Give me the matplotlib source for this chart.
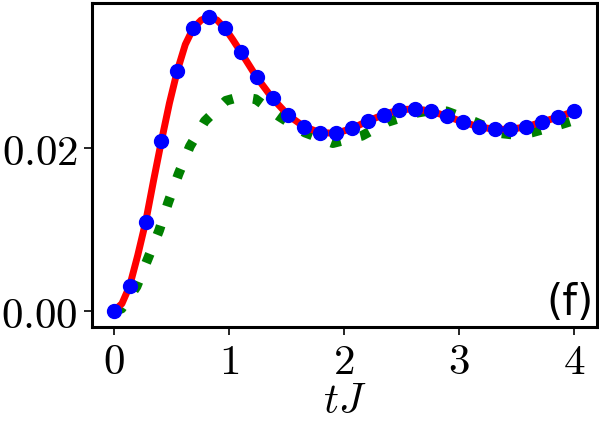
import numpy as np
import matplotlib
matplotlib.use("Agg")
import matplotlib.pyplot as plt

plt.rcParams["mathtext.fontset"] = "cm"

# blue dots (30 samples, 0..4)
t_dots = np.linspace(0, 4, 30)
y_dots = [0.0000, 0.0031, 0.0109, 0.0209, 0.0295, 0.0347, 0.0361, 0.0347,
          0.0318, 0.0287, 0.0261, 0.0240, 0.0226, 0.0219, 0.0218, 0.0224,
          0.0233, 0.0241, 0.0247, 0.0248, 0.0245, 0.0239, 0.0232, 0.0226,
          0.0223, 0.0223, 0.0226, 0.0232, 0.0238, 0.0245]

# red solid curve
t_red = [0.0, 0.07, 0.138, 0.207, 0.276, 0.345, 0.414, 0.483, 0.552, 0.621,
         0.690, 0.759, 0.828, 0.897, 0.966, 1.034, 1.103, 1.241, 1.379, 1.517,
         1.655, 1.793, 1.931, 2.069, 2.207, 2.345, 2.483, 2.621, 2.759, 2.897,
         3.034, 3.172, 3.310, 3.448, 3.586, 3.724, 3.862, 4.0]
y_red = [0.0000, 0.0009, 0.0031, 0.0068, 0.0109, 0.0160, 0.0209, 0.0255, 0.0295, 0.0327,
         0.0347, 0.0357, 0.0361, 0.0357, 0.0347, 0.0333, 0.0318, 0.0287, 0.0261, 0.0240,
         0.0226, 0.0219, 0.0218, 0.0224, 0.0233, 0.0241, 0.0247, 0.0248, 0.0245, 0.0239,
         0.0232, 0.0226, 0.0223, 0.0223, 0.0226, 0.0232, 0.0238, 0.0245]

# green dotted curve
t_green = [0.0, 0.067, 0.197, 0.298, 0.394, 0.472, 0.562, 0.661, 0.791, 0.974,
           1.10, 1.232, 1.435, 1.661, 1.904, 2.157, 2.380, 2.626, 2.75, 2.893,
           3.139, 3.371, 3.50, 3.632, 3.887, 4.0]
y_green = [0.0000, 0.0003, 0.0030, 0.0065, 0.0099, 0.0133, 0.0168, 0.0202, 0.0233, 0.0258,
           0.0263, 0.0260, 0.0239, 0.0219, 0.0206, 0.0215, 0.0232, 0.0243, 0.0246, 0.0245,
           0.0232, 0.0218, 0.0216, 0.0219, 0.0229, 0.0234]

fig = plt.figure(figsize=(5.99, 4.23), dpi=100)
ax = fig.add_axes([0.1536, 0.227, 0.843, 0.766])

ax.plot(t_green, y_green, color="green", lw=7, linestyle=(0, (1, 2.1)), zorder=1)
ax.plot(t_red, y_red, color="red", lw=5, zorder=2)
ax.plot(t_dots, y_dots, "o", color="blue", ms=10, zorder=3)

ax.set_xlim(-0.19, 4.2)
ax.set_ylim(-0.00196, 0.0378)
ax.set_xticks([0, 1, 2, 3, 4])
ax.set_xticklabels([f"${v}$" for v in [0, 1, 2, 3, 4]])
ax.set_yticks([0.0, 0.02])
ax.set_yticklabels(["$0.00$", "$0.02$"])
ax.tick_params(labelsize=31, length=6, width=1.2, direction="out", pad=4)
for s in ax.spines.values():
    s.set_linewidth(2.2)
ax.set_xlabel("$tJ$", fontsize=30, labelpad=-2)
ax.text(0.993, 0.01, "(f)", transform=ax.transAxes, ha="right", va="bottom",
        fontsize=30)

fig.savefig("out.png", dpi=100)
